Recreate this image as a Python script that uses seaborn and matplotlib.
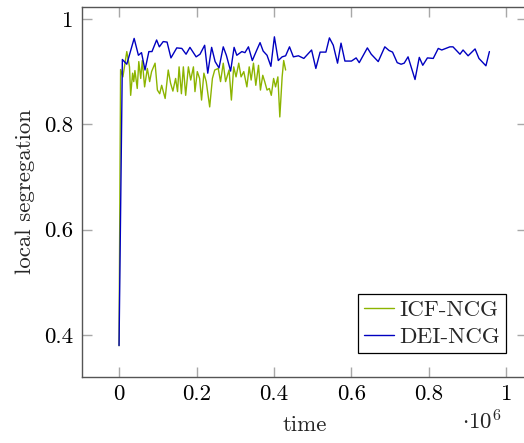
import matplotlib
matplotlib.use("Agg")
import matplotlib.pyplot as plt
import seaborn as sns
import pandas as pd

# time in units of 1e6
t_icf = [0.0, 0.004, 0.01, 0.02, 0.027, 0.03, 0.035, 0.038, 0.041, 0.047, 0.051, 0.056, 0.06, 0.066,
         0.073, 0.079, 0.084, 0.093, 0.099, 0.105, 0.11, 0.119, 0.127, 0.133, 0.139, 0.146,
         0.151, 0.155, 0.161, 0.166, 0.172, 0.179, 0.185, 0.192, 0.196, 0.202, 0.208, 0.213,
         0.219, 0.225, 0.234, 0.241, 0.247, 0.256, 0.262, 0.269, 0.275, 0.284, 0.29, 0.296,
         0.302, 0.309, 0.315, 0.322, 0.33, 0.336, 0.341, 0.347, 0.353, 0.36, 0.365, 0.371,
         0.376, 0.382, 0.388, 0.393, 0.399, 0.404, 0.41, 0.415, 0.421, 0.425, 0.43]
v_icf = [0.38, 0.904, 0.89, 0.938, 0.909, 0.855, 0.897, 0.881, 0.902, 0.868, 0.919, 0.887, 0.921, 0.871,
         0.906, 0.881, 0.9, 0.916, 0.865, 0.858, 0.874, 0.849, 0.903, 0.878, 0.863, 0.887,
         0.862, 0.909, 0.858, 0.909, 0.855, 0.909, 0.884, 0.909, 0.862, 0.9, 0.887, 0.846,
         0.897, 0.881, 0.833, 0.887, 0.903, 0.906, 0.881, 0.916, 0.881, 0.903, 0.846, 0.909,
         0.89, 0.916, 0.89, 0.9, 0.871, 0.909, 0.884, 0.916, 0.874, 0.912, 0.865, 0.893,
         0.881, 0.865, 0.868, 0.855, 0.887, 0.871, 0.89, 0.814, 0.89, 0.921, 0.903]

t_dei = [0.0, 0.0086, 0.02, 0.039, 0.05, 0.058, 0.067, 0.077, 0.085, 0.097, 0.104, 0.114, 0.124,
         0.134, 0.149, 0.162, 0.173, 0.183, 0.199, 0.209, 0.221, 0.229, 0.239, 0.248, 0.258,
         0.269, 0.277, 0.288, 0.297, 0.304, 0.317, 0.325, 0.334, 0.344, 0.355, 0.364, 0.372,
         0.382, 0.392, 0.401, 0.411, 0.421, 0.43, 0.44, 0.45, 0.463, 0.477, 0.497, 0.508,
         0.519, 0.534, 0.543, 0.553, 0.564, 0.573, 0.583, 0.6, 0.612, 0.62, 0.641, 0.651,
         0.669, 0.686, 0.697, 0.706, 0.718, 0.728, 0.736, 0.746, 0.764, 0.775, 0.784, 0.796,
         0.811, 0.824, 0.833, 0.854, 0.862, 0.88, 0.888, 0.901, 0.919, 0.929, 0.947, 0.956]
v_dei = [0.38, 0.923, 0.914, 0.963, 0.931, 0.936, 0.903, 0.938, 0.938, 0.96, 0.947, 0.957, 0.956,
         0.926, 0.945, 0.944, 0.933, 0.946, 0.928, 0.933, 0.95, 0.897, 0.946, 0.919, 0.907,
         0.947, 0.931, 0.901, 0.946, 0.931, 0.938, 0.936, 0.947, 0.921, 0.94, 0.955, 0.939,
         0.931, 0.91, 0.966, 0.921, 0.928, 0.93, 0.947, 0.928, 0.93, 0.925, 0.941, 0.906,
         0.937, 0.937, 0.964, 0.95, 0.916, 0.954, 0.92, 0.92, 0.926, 0.917, 0.945, 0.933,
         0.919, 0.947, 0.94, 0.937, 0.917, 0.914, 0.916, 0.928, 0.885, 0.927, 0.912, 0.926,
         0.925, 0.944, 0.941, 0.947, 0.947, 0.933, 0.941, 0.93, 0.943, 0.925, 0.911, 0.938]

series_names = ["ICF-NCG", "DEI-NCG"]
series_colors = ["#8cb400", "#0000c0"]
x_ticks = [0, 0.2, 0.4, 0.6, 0.8, 1]
x_ticklabels = ["0", "0.2", "0.4", "0.6", "0.8", "1"]
y_ticks = [0.4, 0.6, 0.8, 1.0]
y_ticklabels = ["0.4", "0.6", "0.8", "1"]

df = pd.concat([
    pd.DataFrame({"time": t_icf, "seg": v_icf, "series": series_names[0]}),
    pd.DataFrame({"time": t_dei, "seg": v_dei, "series": series_names[1]}),
], ignore_index=True)

sns.set_style("ticks")
plt.rcParams["font.family"] = ["cmr10", "DejaVu Serif"]
plt.rcParams["mathtext.fontset"] = "cm"
plt.rcParams["axes.formatter.use_mathtext"] = True

FS = 16.5
W, H = 524, 443
fig = plt.figure(figsize=(W / 100, H / 100), dpi=100)
ax = fig.add_axes([82 / W, 1 - 376.5 / H, (526.6 - 82) / W, (376.5 - 7) / H])

sns.lineplot(data=df, x="time", y="seg", hue="series", palette=series_colors,
             hue_order=series_names, estimator=None, sort=False, lw=1.0, ax=ax)

ax.set_xlim(-0.0956, 1.052)
ax.set_ylim(0.3214, 1.0226)
ax.set_xticks(x_ticks)
ax.set_xticklabels(x_ticklabels)
ax.set_yticks(y_ticks)
ax.set_yticklabels(y_ticklabels)
ax.tick_params(axis="both", direction="in", length=7, width=1.0, color="#a8a8a8",
               labelsize=FS, labelcolor="black", top=True, right=True)
ax.tick_params(axis="x", pad=6)
ax.tick_params(axis="y", pad=6)
for s in ax.spines.values():
    s.set_color("#555555")
    s.set_linewidth(1.0)

ax.set_xlabel("time", fontsize=FS, labelpad=8)
ax.set_ylabel("local segregation", fontsize=FS, labelpad=7)

leg = ax.legend(loc="lower right", bbox_to_anchor=(0.954, 0.064), borderaxespad=0,
                fontsize=FS, frameon=True, fancybox=False, edgecolor="black", framealpha=1,
                handlelength=1.3, borderpad=0.25, labelspacing=0.3, handletextpad=0.25)
leg.get_frame().set_linewidth(0.9)

fig.text(482 / W, 1 - 429 / H, r"$\cdot10^{6}$", fontsize=FS, ha="center", va="baseline")

fig.savefig("out.png", dpi=100)
